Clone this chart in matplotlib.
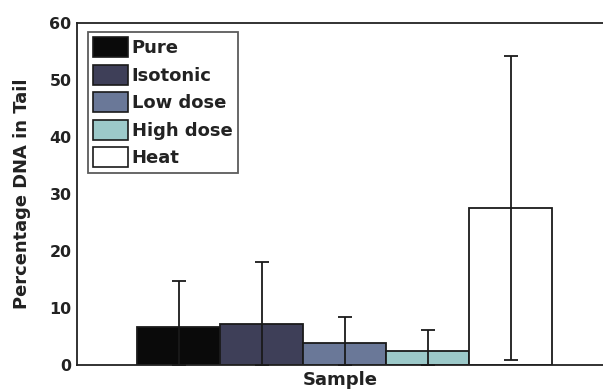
import matplotlib
matplotlib.use("Agg")
import matplotlib.pyplot as plt
from matplotlib.patches import Patch

categories = ["Pure", "Isotonic", "Low dose", "High dose", "Heat"]
means = [6.7, 7.2, 3.9, 2.5, 27.5]
errors = [8.0, 10.9, 4.5, 3.6, 26.7]
colors = ["#0a0a0a", "#3e3f58", "#6a7898", "#9cc9c9", "#ffffff"]
yticks = [0, 10, 20, 30, 40, 50, 60]

plt.rcParams['font.family'] = ['DejaVu Sans']

fig = plt.figure(figsize=(6.03, 3.91), dpi=100)
ax = fig.add_axes([77/603, 26/391, 526/603, 342/391])

x = list(range(len(categories)))
ax.bar(x, means, width=1.0, color=colors, edgecolor="#1a1a1a", linewidth=1.3, zorder=2)
lower = [min(m, e) for m, e in zip(means, errors)]
ax.errorbar(x, means, yerr=[lower, errors], fmt="none", ecolor="#1a1a1a",
            elinewidth=1.3, capsize=5, capthick=1.3, zorder=3)

ax.set_ylim(0, 60)
ax.set_xlim(-101.5/83, -101.5/83 + 526/83)
ax.set_yticks(yticks)
ax.set_yticklabels([str(t) for t in yticks], fontsize=11.4, fontweight="bold", color="#222222")
ax.set_xticks([])
ax.tick_params(axis="y", length=0, pad=4)
for s in ["left", "bottom", "top"]:
    ax.spines[s].set_linewidth(1.3)
    ax.spines[s].set_color("#222222")
ax.spines["right"].set_visible(False)

ax.set_ylabel("Percentage DNA in Tail", fontsize=12.9, fontweight="bold", color="#222222")
ax.yaxis.set_label_coords((31 - 77) / 526, 0.5)
ax.set_xlabel("Sample", fontsize=13, fontweight="bold", labelpad=4, color="#222222")

handles = [Patch(facecolor=c, edgecolor="#1a1a1a", linewidth=1.2) for c in colors]
leg = ax.legend(handles, categories, loc="upper left",
                bbox_to_anchor=((88-77)/526, (365-32)/342),
                prop={"weight": "bold", "size": 13}, frameon=True, fancybox=False,
                edgecolor="#333333", handlelength=1.9, handleheight=1.3,
                labelspacing=0.42, handletextpad=0.22, borderpad=0.3, borderaxespad=0)
leg.get_frame().set_linewidth(1.3)
for t in leg.get_texts():
    t.set_color("#222222")

fig.savefig("out.png", dpi=100)
